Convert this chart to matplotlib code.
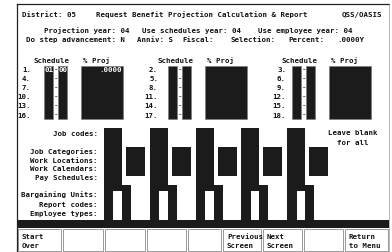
import matplotlib.pyplot as plt
from matplotlib.patches import Rectangle

# screen values
district = "05"
projection_year = "04"
schedules_year = "04"
employee_year = "04"
step_advancement = "N"
anniv = "S"
percent = ".0000Y"

schedule_numbers = [[1, 4, 7, 10, 13, 16],
                    [2, 5, 8, 11, 14, 17],
                    [3, 6, 9, 12, 15, 18]]
first_schedule = ["01", "00"]
first_percent = ".0000"

criteria_labels = ["Job codes:", "Job Categories:", "Work Locations:",
                   "Work Calendars:", "Pay Schedules:", "Bargaining Units:",
                   "Report codes:", "Employee types:"]
fkey_labels = ["Start\nOver", "", "", "", "", "Previous\nScreen",
               "Next\nScreen", "", "Return\nto Menu"]

# layout (pixels)
FS = 5.3
INK = '#111111'
FIELD = '#1b1b1b'
label_rows_y = [134, 152, 160.7, 169.3, 178, 195, 205, 214]
fkey_edges = [17, 62, 104, 146, 187, 222, 262, 303, 344, 389]


def put(ax, x, y, s, ha='left', color=INK):
    ax.text(x, y, s, fontsize=FS, family='DejaVu Sans Mono', ha=ha,
            va='center', color=color, fontweight='semibold')


def box(ax, x, y, w, h, fc=FIELD, ec='#777777', lw=0.4):
    ax.add_patch(Rectangle((x, y), w, h, facecolor=fc, edgecolor=ec, lw=lw))


fig = plt.figure(figsize=(3.92, 2.52), dpi=100)
ax = fig.add_axes([0, 0, 1, 1])
ax.set_xlim(0, 392)
ax.set_ylim(252, 0)
ax.axis('off')

# frame
ax.plot([17, 17], [4, 252], color='#222222', lw=0.9)
ax.plot([17, 389], [4, 4], color='#222222', lw=0.9)
ax.plot([389, 389], [4, 252], color='#999999', lw=0.5)

# header lines
put(ax, 22, 15, "District: " + district)
put(ax, 96, 15, "Request Benefit Projection Calculation & Report")
put(ax, 342, 15, "QSS/OASIS")
put(ax, 44, 31, "Projection year: " + projection_year)
put(ax, 142, 31, "Use schedules year: " + schedules_year)
put(ax, 258, 31, "Use employee year: " + employee_year)
put(ax, 26, 40, "Do step advancement: " + step_advancement)
put(ax, 137, 40, "Anniv: " + anniv)
put(ax, 182, 40, "Fiscal:")
put(ax, 231, 40, "Selection:")
put(ax, 288, 40, "Percent:")
put(ax, 337, 40, percent)

# schedule groups
label_right = [31, 158, 286]
for g, nums in enumerate(schedule_numbers):
    bx = 44 + g * 124
    put(ax, bx - 10, 61, "Schedule")
    put(ax, bx + 39, 61, "% Proj")
    box(ax, bx, 66, 9.5, 53)
    box(ax, bx + 14, 66, 9, 53)
    box(ax, bx + 37, 66, 42, 53)
    for i, n in enumerate(nums):
        y = 70 + 9.1 * i
        put(ax, label_right[g], y, f"{n}.", ha='right')
        put(ax, bx + 9.8, y, "-", color='#555555')
    if g == 0:
        put(ax, bx + 0.5, 70, first_schedule[0], color='white')
        put(ax, bx + 14.5, 70, first_schedule[1], color='white')
        put(ax, bx + 78, 70, first_percent, ha='right', color='white')

# selection criteria labels
for lab, y in zip(criteria_labels, label_rows_y):
    put(ax, 98, y, lab, ha='right')
put(ax, 328, 133, "Leave blank")
put(ax, 337, 143, "for all")

# criteria input fields (5 columns)
for i in range(5):
    x0 = 104 + i * 45.8
    box(ax, x0, 128, 18, 63, ec='none')
    box(ax, x0 + 22, 147, 19, 29, ec='none')
    box(ax, x0, 185, 27, 6, ec='none')
    box(ax, x0, 191, 9.5, 29, ec='none')
    box(ax, x0 + 18, 191, 9, 29, ec='none')

# separator bar
box(ax, 17, 220, 372, 7.5, ec='none')

# function keys
for k, lab in enumerate(fkey_labels):
    xl, xr = fkey_edges[k], fkey_edges[k + 1]
    box(ax, xl + 1, 229, xr - xl - 2, 22, fc='white', ec='#8a8a8a', lw=0.6)
    for j, line in enumerate(lab.split("\n")):
        if line:
            put(ax, xl + 5, 237 + 9 * j, line)

fig.savefig('out.png', dpi=100)
